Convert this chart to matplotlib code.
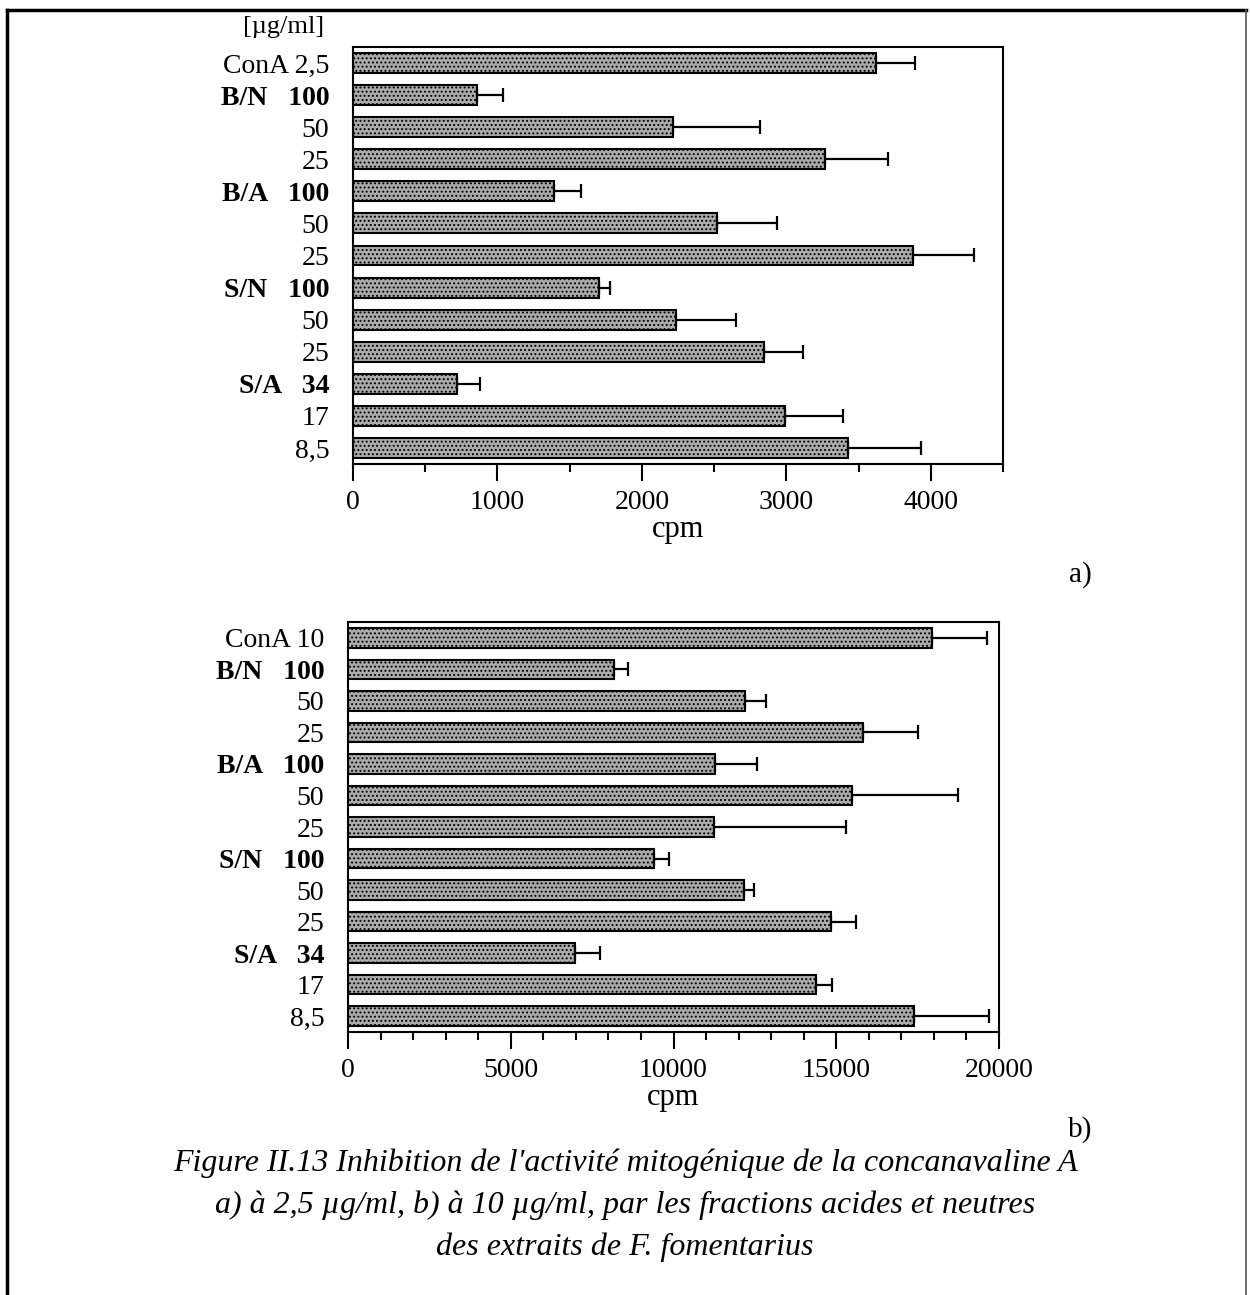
import matplotlib
matplotlib.use("Agg")
import matplotlib.pyplot as plt
from matplotlib.lines import Line2D
from matplotlib.ticker import MultipleLocator

# data
labels_a = ["ConA 2,5", "B/N   100", "50", "25", "B/A   100", "50", "25",
            "S/N   100", "50", "25", "S/A   34", "17", "8,5"]
labels_b = ["ConA 10", "B/N   100", "50", "25", "B/A   100", "50", "25",
            "S/N   100", "50", "25", "S/A   34", "17", "8,5"]
bold_rows = [1, 4, 7, 10]

cpm_a = [3620, 860, 2215, 3270, 1390, 2520, 3880, 1700, 2235, 2845, 720, 2990, 3430]
err_a = [270, 175, 600, 435, 190, 415, 420, 80, 415, 270, 160, 400, 505]

cpm_b = [17930, 8180, 12200, 15820, 11290, 15470, 11230, 9390, 12180, 14830, 6980, 14380, 17390]
err_b = [1690, 430, 650, 1690, 1290, 3280, 4080, 480, 300, 775, 750, 475, 2300]

W, H = 1250, 1295
plt.rcParams['font.family'] = ['Liberation Serif', 'DejaVu Serif']
plt.rcParams['hatch.linewidth'] = 0.9

fig = plt.figure(figsize=(12.5, 12.95), dpi=100)


def box(l, t, r, b):
    return [l / W, 1 - b / H, (r - l) / W, (b - t) / H]


def panel(rect, labels, vals, errs, xmax, major, minor):
    ax = fig.add_axes(rect)
    y = list(range(len(vals)))
    ax.barh(y, vals, height=0.62, color='#aaaaaa', edgecolor='black',
            linewidth=1.5, hatch='....', zorder=2)
    ax.errorbar(vals, y, xerr=[[0] * len(errs), errs], fmt='none',
                ecolor='black', elinewidth=1.6, capsize=5, capthick=1.6, zorder=3)
    ax.set_ylim(len(vals) - 0.5, -0.5)
    ax.set_xlim(0, xmax)
    ax.set_yticks(y)
    ax.set_yticklabels(labels, fontsize=20)
    for i, t in enumerate(ax.get_yticklabels()):
        if i in bold_rows:
            t.set_fontweight('bold')
    ax.tick_params(axis='y', length=0, pad=17)
    ax.xaxis.set_major_locator(MultipleLocator(major))
    ax.xaxis.set_minor_locator(MultipleLocator(minor))
    ax.tick_params(axis='x', which='major', length=12, width=1.5, labelsize=20, pad=7)
    ax.tick_params(axis='x', which='minor', length=6, width=1.5)
    for s in ax.spines.values():
        s.set_linewidth(1.5)
    ax.set_xlabel('cpm', fontsize=22, labelpad=0)
    return ax


panel(box(353, 47, 1003, 464), labels_a, cpm_a, err_a, 4500, 1000, 500)
panel(box(348, 622, 999, 1032), labels_b, cpm_b, err_b, 20000, 5000, 1000)

fig.text(324 / W, 1 - 27 / H, "[\u00b5g/ml]", fontsize=19, ha='right', va='center')
fig.text(1080 / W, 1 - 575 / H, "a)", fontsize=21, ha='center', va='center')
fig.text(1080 / W, 1 - 1130 / H, "b)", fontsize=21, ha='center', va='center')

caption = ["Figure II.13 Inhibition de l'activit\u00e9 mitog\u00e9nique de la concanavaline A",
           "a) \u00e0 2,5 \u00b5g/ml, b) \u00e0 10 \u00b5g/ml, par les fractions acides et neutres",
           "des extraits de F. fomentarius"]
for i, line in enumerate(caption):
    fig.text(625 / W, 1 - (1163 + 42 * i) / H, line, fontsize=23, style='italic',
             ha='center', va='center')

# frame around the figure
fig.add_artist(Line2D([7 / W, 7 / W], [1 - 10 / H, 0], color='black', lw=2.5))
fig.add_artist(Line2D([7 / W, 1246 / W], [1 - 10 / H, 1 - 10 / H], color='black', lw=2.5))
fig.add_artist(Line2D([1246 / W, 1246 / W], [1 - 10 / H, 0], color='#555555', lw=1.2))

fig.savefig("out.png", dpi=100)
